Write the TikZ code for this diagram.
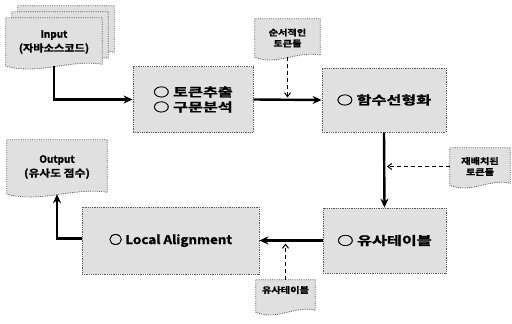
\documentclass[tikz,border=0pt]{standalone}
\usepackage{fontspec}
\setmainfont{Noto Sans CJK KR}[BoldFont={Noto Sans CJK KR Bold},BoldFeatures={FakeBold=1.3}]
\usetikzlibrary{arrows.meta,calc,backgrounds}

\newcommand{\docpath}[2]{([shift={#2}]#1.north west) -- ([shift={#2}]#1.north east) -- ($(#1.south east)+(0,2)+#2$) .. controls ($(#1.south east)!0.35!(#1.south west)+(0,7)+#2$) and ($(#1.south east)!0.65!(#1.south west)+(0,-9)+#2$) .. ($(#1.south west)+#2$) -- cycle}
\newcommand{\wid}[2]{\scalebox{#1}[1]{#2}}

\tikzset{
  procbox/.style={draw=black!65, densely dotted, line width=0.8pt, fill=black!12,
    font=\bfseries\fontsize{12}{15}\selectfont, align=left, inner sep=0},
  docnode/.style={inner sep=0, align=center, font=\bfseries\fontsize{8.5}{11}\selectfont},
  docfill/.style={draw=black!65, densely dotted, line width=0.8pt, fill=black!12},
  mainarrow/.style={line width=2.4pt, -{Stealth[length=9pt,width=8pt]}},
  dasharrow/.style={line width=1pt, dash pattern=on 4pt off 3pt, -{Straight Barb[length=4pt,width=6pt]}},
}

\begin{document}
\begin{tikzpicture}[x=1pt,y=1pt]
\useasboundingbox (0,0) rectangle (512,-324);

% process boxes
\node[procbox, minimum width=120pt, minimum height=66pt] (b1) at (193,-99.5) {\wid{1.35}{○ 토큰추출}\\\wid{1.35}{○ 구문분석}};
\node[procbox, minimum width=124pt, minimum height=64pt] (b2) at (384,-100) {\wid{1.35}{○ 함수선형화}};
\node[procbox, minimum width=123pt, minimum height=65pt] (b3) at (384.5,-240.5) {\wid{1.35}{○ 유사테이블}};
\node[procbox, minimum width=177pt, minimum height=67pt] (b4) at (170.5,-240.5) {\wid{1.12}{○ Local Alignment}};

% document nodes
\node[docnode, minimum width=96pt, minimum height=48pt] (in) at (54,-42) {};
\node[docnode, minimum width=100pt, minimum height=54pt] (out) at (57,-167) {};
\node[docnode, minimum width=65pt, minimum height=38pt] (d1) at (287.5,-38) {};
\node[docnode, minimum width=60pt, minimum height=37pt] (d2) at (480,-166.5) {};
\node[docnode, minimum width=59pt, minimum height=32pt] (d3) at (285.5,-296) {};

\begin{scope}[on background layer]
  \fill[white] (0,0) rectangle (512,-324);
  \draw[docfill] \docpath{in}{(12,12)};
  \draw[docfill] \docpath{in}{(6,6)};
  \draw[docfill] \docpath{in}{(0,0)};
  \draw[docfill] \docpath{out}{(0,0)};
  \draw[docfill] \docpath{d1}{(0,0)};
  \draw[docfill] \docpath{d2}{(0,0)};
  \draw[docfill] \docpath{d3}{(0,0)};
\end{scope}

% document texts
\node[docnode, font=\bfseries\fontsize{10}{14}\selectfont] (intext) at (in.center) {Input\\\wid{1.12}{(자바소스코드)}};
\node[docnode, font=\bfseries\fontsize{10}{14}\selectfont] (outtext) at (out.center) {Output\\\wid{1.18}{(유사도 점수)}};
\node[docnode] (d1text) at (d1.center) {\wid{1.2}{순서적인}\\\wid{1.2}{토큰들}};
\node[docnode] (d2text) at (d2.center) {\wid{1.2}{재배치된}\\\wid{1.2}{토큰들}};
\node[docnode] (d3text) at ($(d3.center)+(0,6)$) {\wid{1.2}{유사테이블}};

% junction points
\coordinate (j1) at ($(d1.south |- b1.east)+(0,2)$);
\coordinate (j2) at ($(d2.west -| b2.south)+(3,0)$);
\coordinate (j3) at ($(d3.north |- b3.west)+(0,-3)$);

% main arrows
\draw[mainarrow] (in.south) |- (b1.west);
\draw[mainarrow] (b1.east) -- (b2.west);
\draw[mainarrow] (b2.south) -- (b3.north);
\draw[mainarrow] (b3.west) -- (b4.east);
\draw[mainarrow] ([yshift=2pt]b4.west) -| (out.south);

% dashed arrows
\draw[dasharrow] (d1.south) -- (j1);
\draw[dasharrow] (d2.west) -- (j2);
\draw[dasharrow] (d3.north) -- (j3);
\end{tikzpicture}
\end{document}
